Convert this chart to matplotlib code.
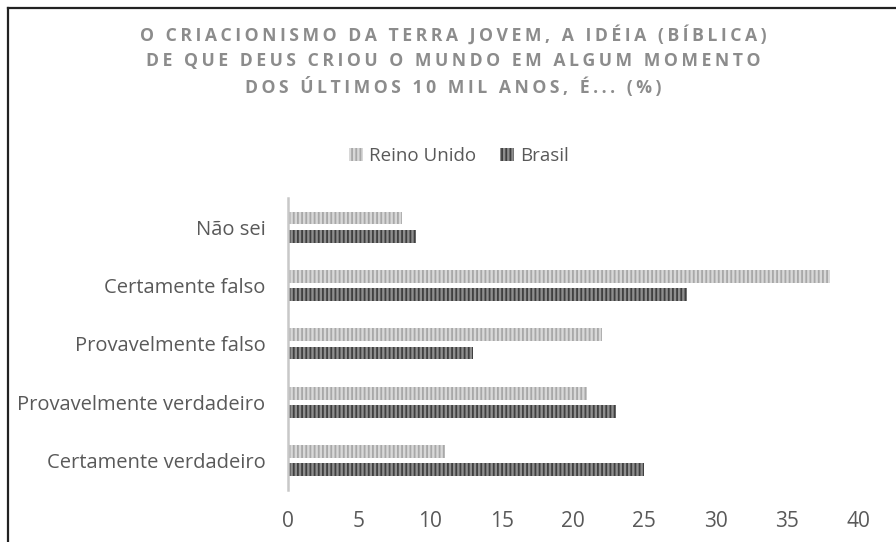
import matplotlib
matplotlib.use("Agg")
import matplotlib.pyplot as plt
import numpy as np
from matplotlib.lines import Line2D
from matplotlib.patches import Patch

# dados (de baixo para cima)
categorias = ["Certamente verdadeiro", "Provavelmente verdadeiro",
              "Provavelmente falso", "Certamente falso", "Não sei"]
reino_unido = [11, 21, 22, 38, 8]
brasil = [25, 23, 13, 28, 9]
ticks_x = [0, 5, 10, 15, 20, 25, 30, 35, 40]
titulo = ["O CRIACIONISMO DA TERRA JOVEM, A IDÉIA (BÍBLICA)",
          "DE QUE DEUS CRIOU O MUNDO EM ALGUM MOMENTO",
          "DOS ÚLTIMOS 10 MIL ANOS, É... (%)"]

plt.rcParams['font.family'] = ['Open Sans', 'DejaVu Sans']
plt.rcParams['hatch.linewidth'] = 1.3

cinza_txt = "#595959"
uk_face, uk_hatch = "#d8d8d8", "#a8a8a8"
br_face, br_hatch = "#8e8e8e", "#3f3f3f"

fig = plt.figure(figsize=(8.96, 5.42), dpi=100)
ax = fig.add_axes([0.321, 0.096, 0.637, 0.539])

y = np.arange(len(categorias))
h = 0.22
off = 0.155
ax.barh(y + off, reino_unido, height=h, color=uk_face, edgecolor=uk_hatch,
        hatch="||||", linewidth=0, label="Reino Unido")
ax.barh(y - off, brasil, height=h, color=br_face, edgecolor=br_hatch,
        hatch="||||", linewidth=0, label="Brasil")

ax.set_xlim(0, 40)
ax.set_ylim(-0.5, len(categorias) - 0.5)
ax.set_xticks(ticks_x)
ax.set_yticks(y)
ax.set_yticklabels(categorias)
for s in ["top", "right", "bottom"]:
    ax.spines[s].set_visible(False)
ax.spines["left"].set_color("#c8c8c8")
ax.spines["left"].set_linewidth(1.8)
ax.tick_params(axis="x", length=0, labelsize=15, labelcolor=cinza_txt, pad=15)
ax.tick_params(axis="y", length=0, labelsize=14.5, labelcolor=cinza_txt, pad=16)

handles = [Patch(facecolor=uk_face, edgecolor=uk_hatch, hatch="||||", linewidth=0),
           Patch(facecolor=br_face, edgecolor=br_hatch, hatch="||||", linewidth=0)]
fig.legend(handles, ["Reino Unido", "Brasil"], loc="center",
           bbox_to_anchor=(0.512, 0.712), ncol=2, frameon=False,
           fontsize=13.5, labelcolor=cinza_txt, handlelength=0.75,
           handleheight=0.75, handletextpad=0.3, columnspacing=1.3)

# espaçamento entre letras como no original
esp = "\u2009"
ys = [0.935, 0.887, 0.839]
for t, yy in zip(titulo, ys):
    fig.text(0.506, yy, esp.join(t), ha="center", va="center", fontsize=12.7,
             fontweight="bold", color="#8c8c8c")

# moldura (recortada)
fig.add_artist(Line2D([0.009, 1.0], [0.985, 0.985], color="#222222", lw=1.6))
fig.add_artist(Line2D([0.009, 0.009], [0.0, 0.985], color="#222222", lw=1.6))

fig.savefig("out.png", dpi=100)
